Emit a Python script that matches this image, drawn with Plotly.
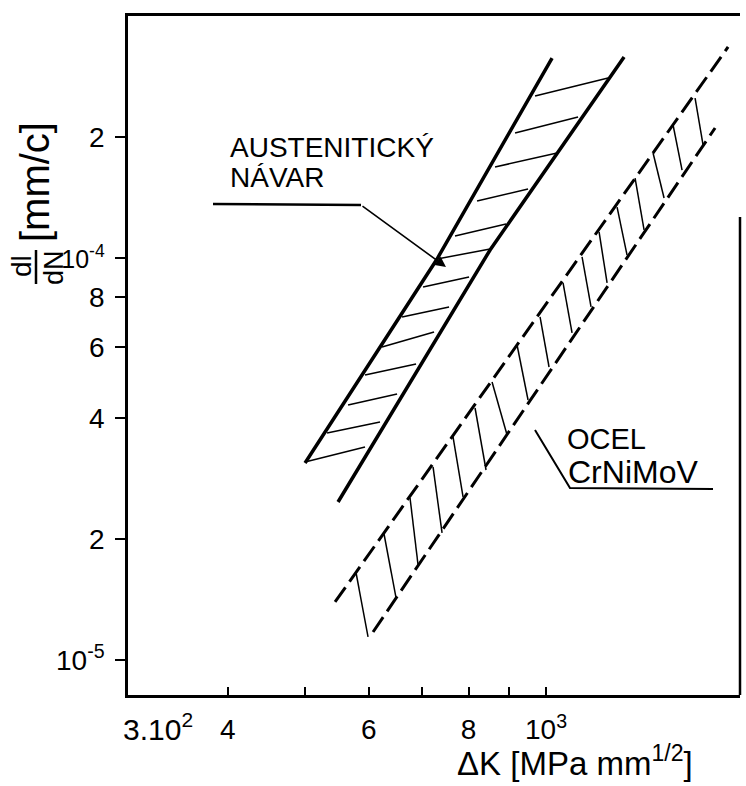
import plotly.graph_objects as go

# Stress-intensity range ΔK [MPa mm^1/2] versus fatigue crack growth rate dl/dN [mm/c]

# Austenitic weld deposit (AUSTENITICKÝ NÁVAR) - solid band limits
aus_left_dk = [499.5, 730.6, 1017.5]
aus_left_rate = [3.091e-5, 9.943e-5, 3.144e-4]
aus_right_dk = [549.3, 851.1, 1252.0]
aus_right_rate = [2.472e-5, 1.047e-4, 3.162e-4]

# Austenitic band hatching: start point (left limit) and end point (right limit)
aus_hatch_dk_a = [968.9, 914.6, 863.4, 819.8, 769.4, 730.6, 701.7, 660.5, 623.5, 593.7, 565.4, 532.2, 499.5]
aus_hatch_rate_a = [2.529e-4, 2.046e-4, 1.684e-4, 1.386e-4, 1.134e-4, 9.943e-5, 8.470e-5, 7.133e-5,
                    6.006e-5, 5.116e-5, 4.309e-5, 3.670e-5, 3.108e-5]
aus_hatch_dk_b = [1195.6, 1096.6, 1032.2, 949.5, 891.2, 851.1, 801.1, 756.3, 724.3, 687.7, 651.1, 619.9, 593.7]
aus_hatch_rate_b = [2.804e-4, 2.243e-4, 1.825e-4, 1.485e-4, 1.215e-4, 1.053e-4, 8.969e-5, 7.553e-5,
                    6.545e-5, 5.449e-5, 4.589e-5, 3.909e-5, 3.387e-5]

# CrNiMoV steel (OCEL CrNiMoV) - dashed band limits
steel_upper_dk = [544.6, 1689.3]
steel_upper_rate = [1.394e-5, 3.349e-4]
steel_lower_dk = [607.6, 1627.2]
steel_lower_rate = [1.174e-5, 2.106e-4]

# Steel band hatching: start point (upper limit) and end point (lower limit)
steel_hatch_dk_a = [1536.1, 1441.7, 1361.0, 1292.3, 1227.0, 1165.0, 1109.3, 1050.2, 982.9,
                    919.9, 856.0, 815.1, 765.0, 722.2, 675.9, 627.1, 578.6]
steel_hatch_rate_a = [2.500e-4, 2.142e-4, 1.825e-4, 1.581e-4, 1.339e-4, 1.161e-4, 1.006e-4, 8.666e-5,
                      7.133e-5, 6.076e-5, 4.915e-5, 4.235e-5, 3.587e-5, 3.021e-5, 2.529e-5, 2.058e-5, 1.646e-5]
steel_hatch_dk_b = [1571.9, 1479.6, 1404.8, 1326.2, 1262.8, 1192.2, 1138.4, 1077.8, 1008.7,
                    949.5, 893.8, 841.3, 787.4, 741.2, 691.7, 649.2, 598.9]
steel_hatch_rate_b = [1.910e-4, 1.655e-4, 1.410e-4, 1.174e-4, 1.017e-4, 8.666e-5, 7.553e-5, 6.508e-5,
                      5.356e-5, 4.434e-5, 3.628e-5, 2.969e-5, 2.544e-5, 2.070e-5, 1.723e-5, 1.427e-5, 1.141e-5]

# Axis ticks
x_tickvals = [400, 500, 600, 700, 800, 900, 1000]
x_ticktext = ["4", "", "6", "", "8", "", "10<sup>3</sup>"]
y_tickvals = [1e-5, 2e-5, 4e-5, 6e-5, 8e-5, 1e-4, 2e-4]
y_ticktext = ["10<sup>-5</sup>", "2", "4", "6", "8",
              "<span style='font-size:25px'>10<sup>-4</sup></span>", "2"]

FONT = "Liberation Sans, Arial, Helvetica, sans-serif"
NARROW = "Liberation Sans Narrow, Arial Narrow, Liberation Sans, sans-serif"
W, H = 746, 786
ML, MR, MT, MB = 128, 6, 16, 91


def paper_x(px):
    return (px - ML) / (W - ML - MR)


def paper_y(py):
    return (H - MB - py) / (H - MT - MB)


def segments(xa, ya, xb, yb):
    xs, ys = [], []
    for x0, y0, x1, y1 in zip(xa, ya, xb, yb):
        xs += [x0, x1, None]
        ys += [y0, y1, None]
    return xs, ys


fig = go.Figure()

line_solid = dict(color="black", width=3.5)
line_dash = dict(color="black", width=3, dash="18px,7px")
line_hatch = dict(color="black", width=1.5)

fig.add_trace(go.Scatter(x=aus_left_dk, y=aus_left_rate, mode="lines", line=line_solid))
fig.add_trace(go.Scatter(x=aus_right_dk, y=aus_right_rate, mode="lines", line=line_solid))
hx, hy = segments(aus_hatch_dk_a, aus_hatch_rate_a, aus_hatch_dk_b, aus_hatch_rate_b)
fig.add_trace(go.Scatter(x=hx, y=hy, mode="lines", line=line_hatch))

fig.add_trace(go.Scatter(x=steel_upper_dk, y=steel_upper_rate, mode="lines", line=line_dash))
fig.add_trace(go.Scatter(x=steel_lower_dk, y=steel_lower_rate, mode="lines", line=line_dash))
sx, sy = segments(steel_hatch_dk_a, steel_hatch_rate_a, steel_hatch_dk_b, steel_hatch_rate_b)
fig.add_trace(go.Scatter(x=sx, y=sy, mode="lines", line=line_hatch))

fig.update_traces(hoverinfo="skip", showlegend=False)

fig.update_xaxes(
    type="log", range=[2.4771, 3.2426],
    showgrid=False, zeroline=False,
    showline=True, linecolor="black", linewidth=2.5, mirror=True,
    tickmode="array", tickvals=x_tickvals, ticktext=x_ticktext,
    ticks="inside", ticklen=8, tickwidth=1.5, tickcolor="black",
    ticklabelstandoff=8,
    tickfont=dict(family=FONT, size=28, color="black"),
)
fig.update_yaxes(
    type="log", range=[-5.0871, -3.398],
    showgrid=False, zeroline=False,
    showline=True, linecolor="black", linewidth=2.5, mirror=False,
    tickmode="array", tickvals=y_tickvals, ticktext=y_ticktext,
    ticks="outside", ticklen=10, tickwidth=1.5, tickcolor="black",
    ticklabelstandoff=5,
    tickfont=dict(family=FONT, size=28, color="black"),
)

txt = dict(family=FONT, color="black")
annotations = [
    dict(text="AUSTENITICKÝ", x=paper_x(228), y=paper_y(147), xanchor="left", yanchor="middle",
         font=dict(size=28, **txt)),
    dict(text="NÁVAR", x=paper_x(228), y=paper_y(177), xanchor="left", yanchor="middle",
         font=dict(size=28, **txt)),
    dict(text="OCEL", x=paper_x(565), y=paper_y(439), xanchor="left", yanchor="middle",
         font=dict(size=29, family=NARROW, color="black")),
    dict(text="CrNiMoV", x=paper_x(566), y=paper_y(472), xanchor="left", yanchor="middle",
         font=dict(size=32, **txt)),
    dict(text="3.10<sup>2</sup>", x=paper_x(121), y=paper_y(727), xanchor="left", yanchor="middle",
         font=dict(size=30, **txt)),
    dict(text="ΔK [MPa mm<sup>1/2</sup>]", x=paper_x(455), y=paper_y(761), xanchor="left",
         yanchor="middle", font=dict(size=33, **txt)),
    dict(text="[mm/c]", x=paper_x(35), y=paper_y(182), textangle=-90, xanchor="center",
         yanchor="middle", font=dict(size=40, **txt)),
    dict(text="dl", x=paper_x(21), y=paper_y(266), textangle=-90, xanchor="center",
         yanchor="middle", font=dict(size=28, **txt)),
    dict(text="dN", x=paper_x(54), y=paper_y(268), textangle=-90, xanchor="center",
         yanchor="middle", font=dict(size=27, **txt)),
    # leader arrow of the austenitic label
    dict(text="", x=paper_x(446), y=paper_y(267), ax=-85, ay=-62, showarrow=True,
         arrowhead=2, arrowsize=1.3, arrowwidth=1.6, arrowcolor="black", standoff=0),
]
for a in annotations:
    a.setdefault("xref", "paper")
    a.setdefault("yref", "paper")
    a.setdefault("showarrow", False)

shapes = [
    # underline of the austenitic label
    dict(type="line", x0=paper_x(213), y0=paper_y(204), x1=paper_x(361), y1=paper_y(205),
         line=dict(color="black", width=2.5)),
    # leader and underline of the steel label
    dict(type="path",
         path=f"M {paper_x(535)} {paper_y(430)} L {paper_x(570)} {paper_y(488)} L {paper_x(713)} {paper_y(489)}",
         line=dict(color="black", width=2)),
    # fraction bar of dl/dN
    dict(type="line", x0=paper_x(36), y0=paper_y(250), x1=paper_x(36), y1=paper_y(284),
         line=dict(color="black", width=2.5)),
    # right frame edge
    dict(type="line", x0=1, y0=0, x1=1, y1=paper_y(217), line=dict(color="black", width=2.5)),
]
for s in shapes:
    s["xref"] = "paper"
    s["yref"] = "paper"

fig.update_layout(
    width=W, height=H, autosize=False,
    margin=dict(l=ML, r=MR, t=MT, b=MB),
    paper_bgcolor="white", plot_bgcolor="white",
    showlegend=False,
    annotations=annotations,
    shapes=shapes,
)

fig.write_html("out.html")
